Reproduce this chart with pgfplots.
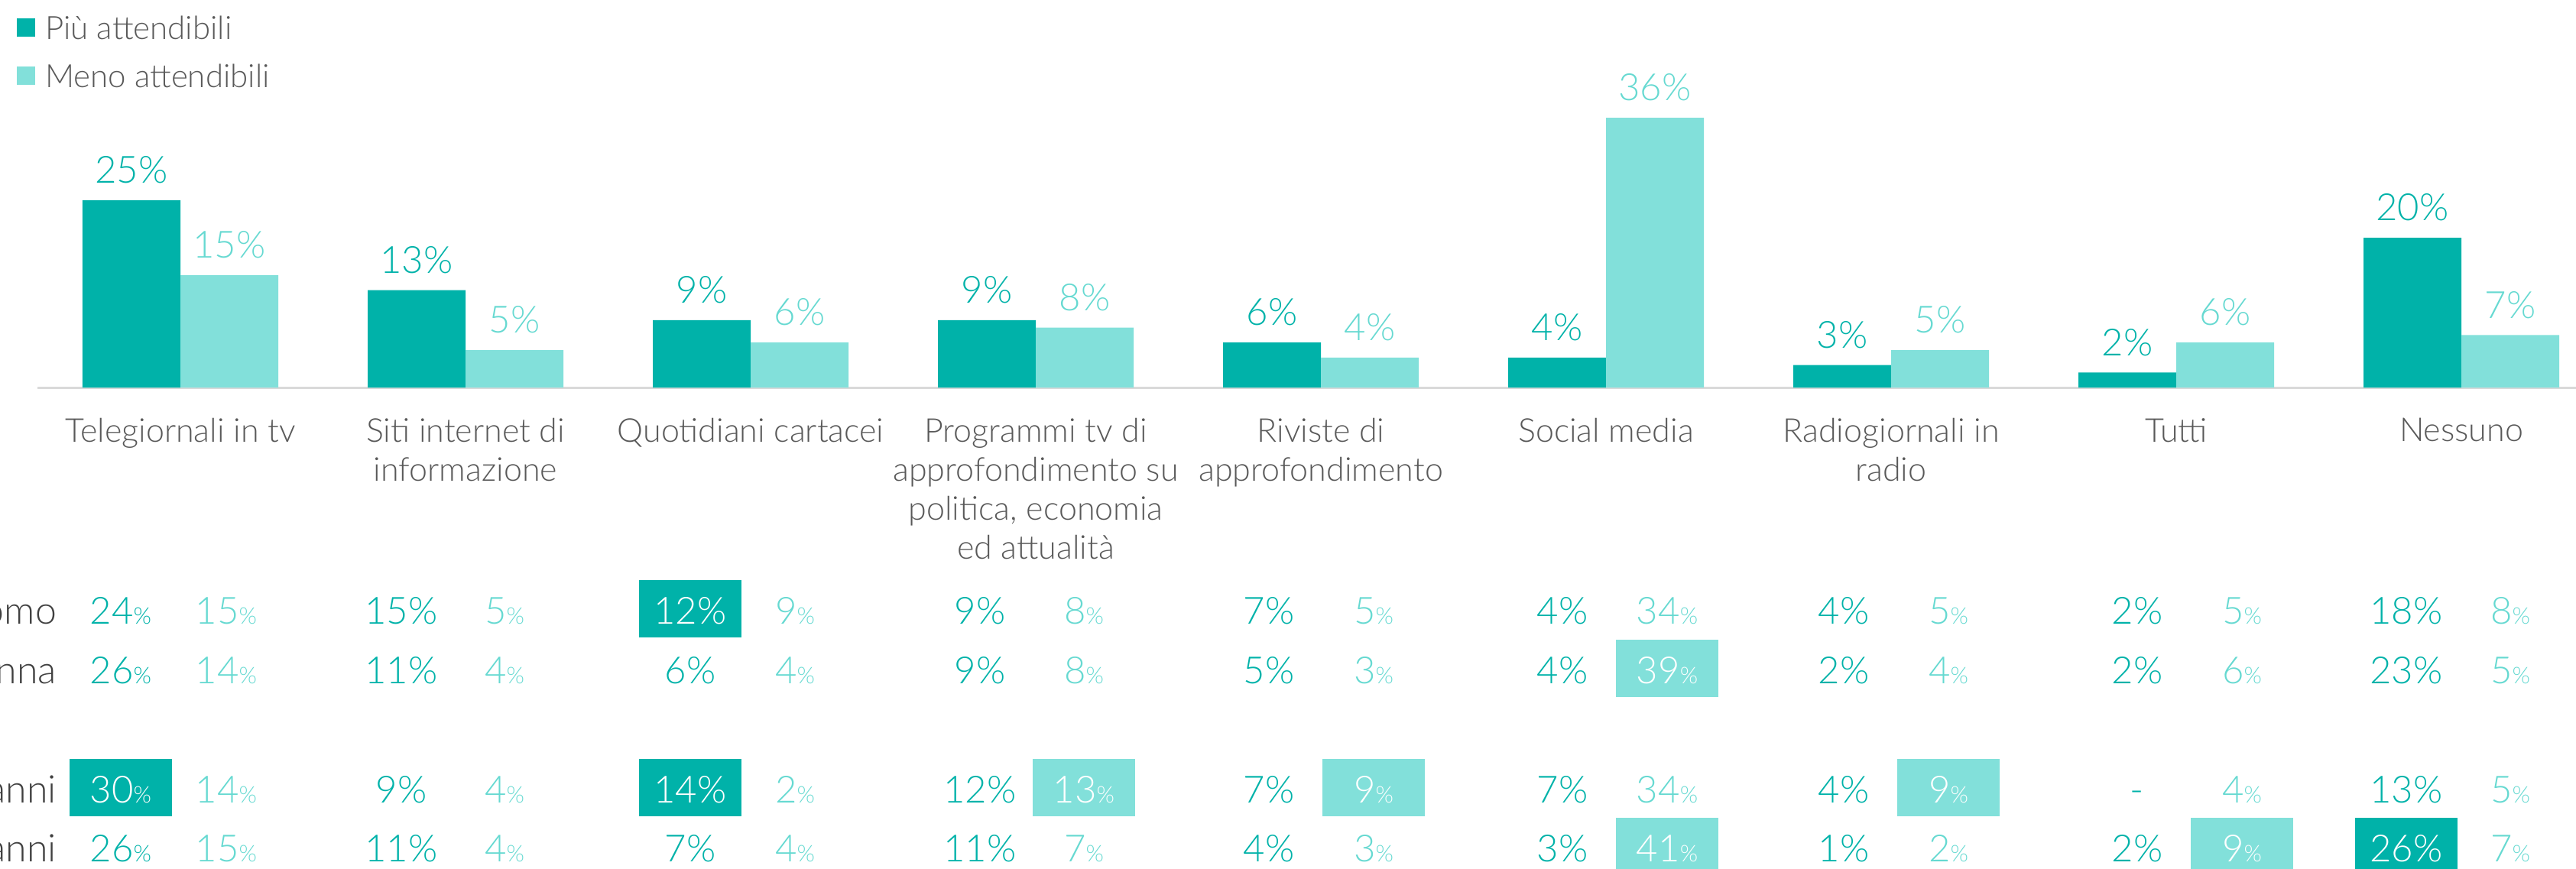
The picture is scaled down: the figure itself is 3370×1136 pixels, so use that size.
\documentclass[border=0pt]{standalone}
\usepackage{fontspec}
\setmainfont{Lato Light}
\usepackage{pgfplots}
\pgfplotsset{compat=1.18}
\definecolor{dk}{HTML}{00B2A9}
\definecolor{lt}{HTML}{82E0DA}
\definecolor{ltt}{HTML}{66D9D1}
\definecolor{lab}{HTML}{595959}
\definecolor{rowlab}{HTML}{404040}
\definecolor{axl}{HTML}{D9D9D9}
\newcommand{\pc}{{\fontsize{6}{7}\selectfont\%}}
\newcommand{\tabf}{\fontsize{9.8}{11}\selectfont}
\begin{document}
\begin{tikzpicture}
\begin{axis}[
  anchor=origin, at={(0pt,0pt)},
  x=74.6pt, y=1.96pt,
  xmin=-0.5, xmax=8.41, ymin=0, ymax=40,
  ybar=0pt, bar width=25.6pt,
  axis x line*=bottom, hide y axis,
  x axis line style={draw=axl, line width=0.6pt, -},
  xtick={0,...,8}, major tick length=0pt,
  /pgf/number format/assume math mode=true,
  xticklabels={Telegiornali in tv, Siti internet di\\informazione, Quotidiani cartacei, {Programmi tv di\\approfondimento su\\politica, economia\\ed attualità}, Riviste di\\approfondimento, Social media, Radiogiornali in\\radio, Tutti, Nessuno},
  xticklabel style={align=center, font=\fontsize{8.6}{10.2}\selectfont, text=lab, anchor=north, inner sep=0pt, yshift=-7.9pt},
  nodes near coords={\pgfmathprintnumber[assume math mode=true]{\pgfplotspointmeta}\%},
  every node near coord/.append style={font=\tabf, inner sep=0pt, anchor=south, yshift=4.2pt},
  clip=false,
  legend cell align=left,
  legend image code/.code={\fill[#1] (0pt,-2.4pt) rectangle (4.8pt,2.4pt);},
  legend style={draw=none, fill=none, inner sep=0pt, outer sep=0pt,
    at={(axis description cs:-0.00827,1.2423)}, anchor=north west,
    font=\fontsize{8.4}{10}\selectfont, text=lab,
    row sep=6.3pt, column sep=2.6pt,
    nodes={inner sep=0pt, text height=6.3pt, text depth=0pt}},
]
\addplot[fill=dk, draw=none, every node near coord/.append style={text=dk}] coordinates {(0,25) (1,13) (2,9) (3,9) (4,6) (5,4) (6,3) (7,2) (8,20)};
\addplot[fill=lt, draw=none, every node near coord/.append style={text=ltt}] coordinates {(0,15) (1,5) (2,6) (3,8) (4,4) (5,36) (6,5) (7,6) (8,7)};
\legend{Più attendibili, Meno attendibili}
\coordinate (O) at (axis cs:0,0);
\end{axis}
\begin{scope}[shift={(O)}, xshift=-47.2pt, yshift=101.4pt, x=0.2pt, y=-0.2pt]
% highlight boxes (dark)
\foreach \x/\y in {903/816, 158/1050, 903/1050, 3148/1127}
  \fill[dk] (\x-67,\y-57) rectangle (\x+67,\y+18);
% highlight boxes (light)
\foreach \x/\y in {2181/894, 1418/1050, 1797/1050, 2549/1050, 2181/1127, 2933/1127}
  \fill[lt] (\x-67,\y-57) rectangle (\x+67,\y+18);
% row labels
\foreach \y/\t in {816/Uomo, 894/Donna, 1050/18-34 anni, 1127/35-54 anni}
  \node[anchor=base east, inner sep=0pt, text=rowlab, font=\fontsize{10}{12}\selectfont] at (75,\y) {\t};
% row 1 (Uomo)
\foreach \x/\t/\c in {158/24\pc/dk, 525/15\%/dk, 903/12\%/white, 1282/9\%/dk, 1660/7\%/dk, 2044/4\%/dk, 2412/4\%/dk, 2796/2\%/dk, 3148/18\%/dk}
  \node[anchor=base, inner sep=0pt, text=\c, font=\tabf] at (\x,816) {\t};
\foreach \x/\t/\c in {296/15\pc/ltt, 660/5\pc/ltt, 1040/9\pc/ltt, 1418/8\pc/ltt, 1797/5\pc/ltt, 2181/34\pc/ltt, 2549/5\pc/ltt, 2933/5\pc/ltt, 3284/8\pc/ltt}
  \node[anchor=base, inner sep=0pt, text=\c, font=\tabf] at (\x,816) {\t};
% row 2 (Donna)
\foreach \x/\t/\c in {158/26\pc/dk, 525/11\%/dk, 903/6\%/dk, 1282/9\%/dk, 1660/5\%/dk, 2044/4\%/dk, 2412/2\%/dk, 2796/2\%/dk, 3148/23\%/dk}
  \node[anchor=base, inner sep=0pt, text=\c, font=\tabf] at (\x,894) {\t};
\foreach \x/\t/\c in {296/14\pc/ltt, 660/4\pc/ltt, 1040/4\pc/ltt, 1418/8\pc/ltt, 1797/3\pc/ltt, 2181/39\pc/white, 2549/4\pc/ltt, 2933/6\pc/ltt, 3284/5\pc/ltt}
  \node[anchor=base, inner sep=0pt, text=\c, font=\tabf] at (\x,894) {\t};
% row 3
\foreach \x/\t/\c in {158/30\pc/white, 525/9\%/dk, 903/14\%/white, 1282/12\%/dk, 1660/7\%/dk, 2044/7\%/dk, 2412/4\%/dk, 2796/-/dk, 3148/13\%/dk}
  \node[anchor=base, inner sep=0pt, text=\c, font=\tabf] at (\x,1050) {\t};
\foreach \x/\t/\c in {296/14\pc/ltt, 660/4\pc/ltt, 1040/2\pc/ltt, 1418/13\pc/white, 1797/9\pc/white, 2181/34\pc/ltt, 2549/9\pc/white, 2933/4\pc/ltt, 3284/5\pc/ltt}
  \node[anchor=base, inner sep=0pt, text=\c, font=\tabf] at (\x,1050) {\t};
% row 4
\foreach \x/\t/\c in {158/26\pc/dk, 525/11\%/dk, 903/7\%/dk, 1282/11\%/dk, 1660/4\%/dk, 2044/3\%/dk, 2412/1\%/dk, 2796/2\%/dk, 3148/26\%/white}
  \node[anchor=base, inner sep=0pt, text=\c, font=\tabf] at (\x,1127) {\t};
\foreach \x/\t/\c in {296/15\pc/ltt, 660/4\pc/ltt, 1040/4\pc/ltt, 1418/7\pc/ltt, 1797/3\pc/ltt, 2181/41\pc/white, 2549/2\pc/ltt, 2933/9\pc/white, 3284/7\pc/ltt}
  \node[anchor=base, inner sep=0pt, text=\c, font=\tabf] at (\x,1127) {\t};
\pgfresetboundingbox
\path[use as bounding box] (0,0) rectangle (3370,1136);
\end{scope}
\end{tikzpicture}
\end{document}
